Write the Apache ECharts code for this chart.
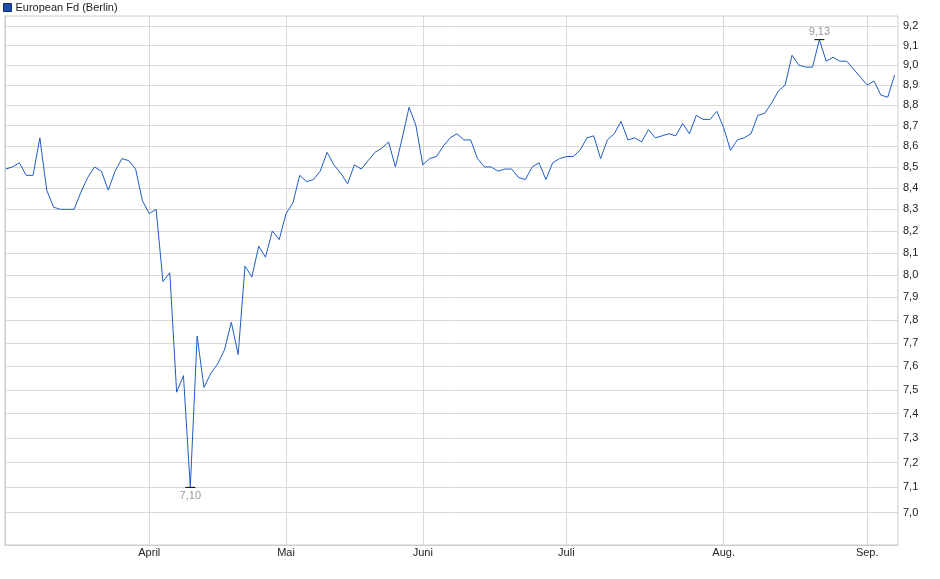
<!DOCTYPE html>
<html>
<head>
<meta charset="utf-8">
<title>European Fd (Berlin)</title>
<script src="https://cdn.jsdelivr.net/npm/echarts@6/dist/echarts.min.js"></script>
<style>
  html, body { margin: 0; padding: 0; background: #fff; }
  #chart { width: 940px; height: 579px; }
</style>
</head>
<body>
<div id="chart"></div>
<script>
// Kurs je Handelstag (Index 0 = erster Handelstag, Anfang Maerz)
const values = [
  8.49, 8.50, 8.52, 8.46, 8.46, 8.64, 8.39, 8.31, 8.30, 8.30,
  8.30, 8.38, 8.45, 8.50, 8.48, 8.39, 8.48, 8.54, 8.53, 8.49,
  8.34, 8.28, 8.30, 7.97, 8.01, 7.49, 7.56, 7.10, 7.73, 7.51,
  7.57, 7.61, 7.67, 7.79, 7.65, 8.04, 7.99, 8.13, 8.08, 8.20,
  8.16, 8.28, 8.33, 8.46, 8.43, 8.44, 8.48, 8.57, 8.51, 8.47,
  8.42, 8.51, 8.49, 8.53, 8.57, 8.59, 8.62, 8.50, 8.64, 8.79,
  8.70, 8.51, 8.54, 8.55, 8.60, 8.64, 8.66, 8.63, 8.63, 8.54,
  8.50, 8.50, 8.48, 8.49, 8.49, 8.45, 8.44, 8.50, 8.52, 8.44,
  8.52, 8.54, 8.55, 8.55, 8.58, 8.64, 8.65, 8.54, 8.63, 8.66,
  8.72, 8.63, 8.64, 8.62, 8.68, 8.64, 8.65, 8.66, 8.65, 8.71,
  8.66, 8.75, 8.73, 8.73, 8.77, 8.69, 8.58, 8.63, 8.64, 8.66,
  8.75, 8.76, 8.81, 8.87, 8.90, 9.05, 9.00, 8.99, 8.99, 9.13,
  9.02, 9.04, 9.02, 9.02, 8.98, 8.94, 8.90, 8.92, 8.85, 8.84,
  8.95
];

// Monatsanfaenge (Index des ersten Handelstags) und Beschriftung
const monthIdx = [21, 41, 61, 82, 105, 126];
const monthLabels = ['April', 'Mai', 'Juni', 'Juli', 'Aug.', 'Sep.'];

// Kursskala rechts
const yTicks = [7.0, 7.1, 7.2, 7.3, 7.4, 7.5, 7.6, 7.7, 7.8, 7.9, 8.0,
  8.1, 8.2, 8.3, 8.4, 8.5, 8.6, 8.7, 8.8, 8.9, 9.0, 9.1, 9.2];

const seriesName = 'European Fd (Berlin)';
const fontFamily = '"Liberation Sans", Arial, sans-serif';

const fmtComma = (v, digits) => v.toFixed(digits).replace('.', ',');

const chart = echarts.init(document.getElementById('chart'), null, { renderer: 'canvas' });

chart.setOption({
  animation: false,
  textStyle: { fontFamily },
  legend: {
    left: 3,
    top: 2,
    padding: 0,
    itemWidth: 8,
    itemHeight: 8,
    icon: 'rect',
    selectedMode: false,
    textStyle: { fontSize: 11, color: '#222', fontFamily, padding: [0, 0, 0, -1] },
    data: [{
      name: seriesName,
      itemStyle: { color: '#1c4fb0', borderColor: '#0d2c6e', borderWidth: 1 }
    }]
  },
  grid: {
    left: 5,
    right: 42,
    top: 16,
    bottom: 34,
    show: true,
    borderColor: '#cccccc',
    borderWidth: 1
  },
  xAxis: {
    type: 'value',
    min: -0.1,
    max: 130.5,
    axisLine: { show: true, lineStyle: { color: '#cccccc' } },
    axisTick: { show: false, customValues: monthIdx },
    axisLabel: {
      customValues: monthIdx,
      color: '#222',
      fontSize: 11,
      margin: 2,
      formatter: v => monthLabels[monthIdx.indexOf(Math.round(v))] || ''
    },
    splitLine: { show: true, lineStyle: { color: '#d9d9d9', width: 1 } }
  },
  yAxis: {
    type: 'log',
    logBase: 10,
    position: 'right',
    min: 6.874,
    max: 9.252,
    axisLine: { show: true, lineStyle: { color: '#cccccc' } },
    axisTick: { show: false, customValues: yTicks },
    axisLabel: {
      customValues: yTicks,
      color: '#222',
      fontSize: 11,
      margin: 5,
      formatter: v => fmtComma(v, 1)
    },
    splitLine: { show: true, lineStyle: { color: '#d9d9d9', width: 1 } }
  },
  series: [{
    name: seriesName,
    type: 'line',
    data: values.map((v, i) => [i, v]),
    showSymbol: false,
    symbol: 'none',
    lineStyle: { color: '#1f5bc6', width: 1 },
    itemStyle: { color: '#1f5bc6' },
    markPoint: {
      symbol: 'rect',
      symbolSize: [10, 1],
      itemStyle: { color: '#000' },
      label: {
        show: true,
        color: '#9a9a9a',
        fontSize: 11,
        fontFamily,
        formatter: p => fmtComma(p.value, 2)
      },
      data: [
        { type: 'max', valueDim: 'y', label: { position: 'top', distance: 2 } },
        { type: 'min', valueDim: 'y', label: { position: 'bottom', distance: 3 } }
      ]
    }
  }]
});
</script>
</body>
</html>
